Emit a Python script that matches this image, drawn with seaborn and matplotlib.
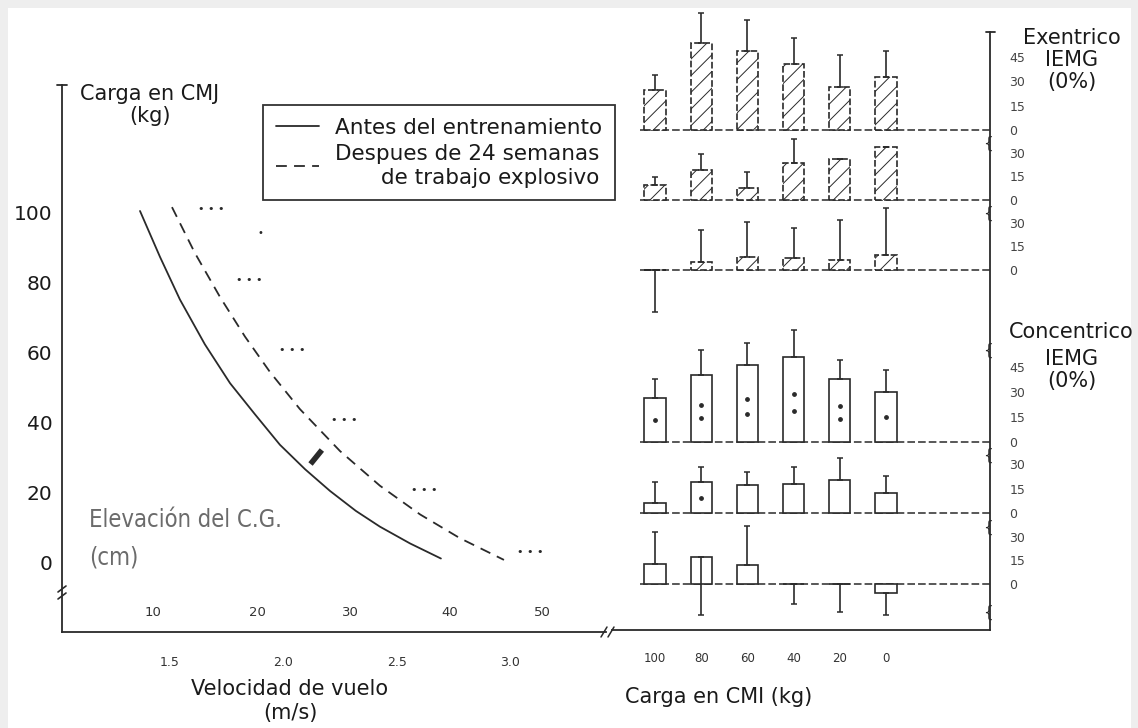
"""
Carga vs velocidad de vuelo (CMJ) e IEMG por carga (CMI)
"""

import numpy as np
import pandas as pd
import matplotlib

matplotlib.use("Agg")
import matplotlib.pyplot as plt
from matplotlib import font_manager
from matplotlib.font_manager import FontProperties
from matplotlib.lines import Line2D
from matplotlib.patches import Rectangle
import seaborn as sns

W, H = 1138, 728
INK = "#2a2a2a"

# left panel: load vs flight velocity
before_v = [1.368, 1.456, 1.544, 1.654, 1.765, 1.875, 1.985, 2.096, 2.206, 2.320, 2.426, 2.559, 2.695]
before_load = [100.3, 87.2, 75.0, 62.2, 51.1, 42.2, 33.5, 26.5, 20.3, 14.6, 10.1, 5.3, 1.0]
after_v = [1.509, 1.610, 1.721, 1.831, 1.941, 2.073, 2.250, 2.426, 2.603, 2.779, 2.973]
after_load = [101.4, 88.3, 75.7, 64.4, 54.3, 43.7, 31.7, 21.8, 13.6, 6.8, 0.6]
sig_v = [1.68, 1.85, 2.04, 2.27, 2.62, 3.09]
sig_load = [101, 80.6, 60.6, 40.6, 20.6, 2.9]
mark_v = [2.12, 2.17]
mark_load = [28, 32]
velocity_ticks = [1.5, 2.0, 2.5, 3.0]
velocity_labels = ["1.5", "2.0", "2.5", "3.0"]
height_labels = ["10", "20", "30", "40", "50"]
height_pos = [1.425, 1.884, 2.294, 2.735, 3.141]
load_ticks = [0, 20, 40, 60, 80, 100]

# right panel: IEMG (%) per CMI load, three rows exentrico + three concentrico
cmi_loads = ["100", "80", "60", "40", "20", "0"]
exc_means = [
    [25, 54, 49, 41, 26.5, 33],
    [9.5, 19, 7.6, 23.5, 26, 34],
    [0, 5, 8.3, 7.6, 6.4, 9.6],
]
exc_tips = [
    [34, 72, 68, 57, 46, 49],
    [14.6, 29, 18, 39, 26, 34],
    [-27, 25.5, 30.6, 27, 32, 39.5],
]
con_means = [
    [26.4, 40, 46, 51, 38, 30],
    [6, 19, 17, 18, 20, 12],
    [13, 17, 12, 0, 0, -6],
]
con_tips = [
    [38, 55, 59, 67, 49, 43],
    [19, 28, 25, 28, 34, 23],
    [33, -20, 37, -13, -18, -20],
]
con_dots = [
    [1, 2, 2, 2, 2, 1],
    [0, 1, 0, 0, 0, 0],
    [0, 0, 0, 0, 0, 0],
]


def fx(px):
    return px / W


def fy(py):
    return 1 - py / H


def fig_line(fig, xs, ys, **kw):
    fig.add_artist(Line2D([fx(x) for x in xs], [fy(y) for y in ys],
                          transform=fig.transFigure, color=INK, **kw))


def narrow_font():
    # a condensed face if one is installed, for the scanned "Elevación" label
    for f in font_manager.fontManager.ttflist:
        if "ondensed" in f.name or "Narrow" in f.name or f.stretch in (
                "condensed", "semi-condensed", "extra-condensed"):
            if f.style == "normal" and f.weight in (400, "normal", "regular"):
                return FontProperties(fname=f.fname)
    return FontProperties(family="DejaVu Sans")


sns.set_style("white")
plt.rcParams["font.family"] = ["DejaVu Sans"]
plt.rcParams["hatch.linewidth"] = 0.7

fig = plt.figure(figsize=(W / 100, H / 100), dpi=100, facecolor="#eeeeee")
fig.patches.append(Rectangle((fx(8), 0), fx(1131) - fx(8), fy(8),
                             transform=fig.transFigure, facecolor="white",
                             edgecolor="none", zorder=-10))

# ---------------- left panel ----------------
ax = fig.add_axes([fx(62), fy(632), fx(606) - fx(62), fy(85) - fy(632)])
ax.set_facecolor("none")
sns.lineplot(x=before_v, y=before_load, ax=ax, color=INK, lw=1.3,
             estimator=None, sort=False, label="Antes del entrenamiento")
sns.lineplot(x=after_v, y=after_load, ax=ax, color=INK, lw=1.3,
             estimator=None, sort=False, linestyle=(0, (6, 4)),
             label="Despues de 24 semanas\nde trabajo explosivo")
ax.plot(mark_v, mark_load, color=INK, lw=4, solid_capstyle="butt")
for v, l in zip(sig_v, sig_load):
    ax.text(v, l, "• • •", fontsize=8, ha="center", va="center", color=INK)
ax.text(1.90, 94, "•", fontsize=7, ha="center", va="center", color=INK)

ax.set_xlim(1.024, 3.423)
ax.set_ylim(-20, 136.3)
ax.set_yticks(load_ticks)
ax.set_yticklabels([str(t) for t in load_ticks], fontsize=14.5, color="#1a1a1a")
ax.set_xticks(velocity_ticks)
ax.set_xticklabels(velocity_labels, fontsize=9, color="#333333")
ax.set_xticks(height_pos, minor=True)
ax.tick_params(axis="y", direction="in", length=5, width=1.1, color=INK, pad=7)
ax.tick_params(axis="x", which="major", length=0, pad=17)
ax.tick_params(axis="x", which="minor", direction="in", length=4, width=1, color=INK)
for lab, v in zip(height_labels, height_pos):
    ax.text(v, -14.3, lab, fontsize=9.5, ha="center", va="center", color="#333333")
for side in ["top", "right"]:
    ax.spines[side].set_visible(False)
for side in ["left", "bottom"]:
    ax.spines[side].set_color(INK)
    ax.spines[side].set_linewidth(1.3)
ax.set(xlabel="", ylabel="")

leg = ax.legend(loc="upper left", bbox_to_anchor=(fx(263), fy(105)),
                bbox_transform=fig.transFigure, borderaxespad=0, fontsize=15.5,
                frameon=True, fancybox=False, edgecolor="black",
                handlelength=2.0, handletextpad=0.75, labelspacing=0.3,
                borderpad=0.6)
leg.get_frame().set_linewidth(1.3)
for t in leg.get_texts():
    t.set_multialignment("right")
    t.set_color("#1a1a1a")

fig.text(fx(150), fy(105), "Carga en CMJ\n(kg)", fontsize=15, ha="center",
         va="center", multialignment="center", linespacing=1.15, color="#1a1a1a")
fig.text(fx(290), fy(701), "Velocidad de vuelo\n(m/s)", fontsize=15, ha="center",
         va="center", multialignment="center", linespacing=1.2, color="#1a1a1a")

# condensed grey label, sized so that the first line spans ~194 px
nfp = narrow_font()
nfp.set_size(20)
elev = fig.text(fx(89), fy(520), "Elevación del C.G.", fontproperties=nfp,
                ha="left", va="center", color="#6b6b6b")
r = fig.canvas.get_renderer()
w = elev.get_window_extent(renderer=r).width
nfp.set_size(min(20 * 194 / w, 24))
elev.set_fontproperties(nfp)
fig.text(fx(89), fy(558), "(cm)", fontproperties=nfp, ha="left", va="center",
         color="#6b6b6b")

# axis decorations: top cap, breaks
fig_line(fig, [57, 67], [85, 85], lw=1.3)
fig_line(fig, [58, 66], [592, 586], lw=1.2)
fig_line(fig, [58, 66], [599, 593], lw=1.2)
fig_line(fig, [601, 607], [637, 627], lw=1.1)
fig_line(fig, [608, 614], [637, 627], lw=1.1)

# ---------------- right panel ----------------
XL = (-0.931, 7.251)
bax = fig.add_axes([fx(612), fy(630), fx(990) - fx(612), fy(32) - fy(630)])
bax.set_facecolor("none")
bax.set_xlim(*XL)
bax.set_xticks(range(len(cmi_loads)))
bax.set_xticklabels(cmi_loads, fontsize=8.5, color="#333333")
bax.set_yticks([])
bax.tick_params(axis="x", length=0, pad=16)
for side in ["top", "left"]:
    bax.spines[side].set_visible(False)
for side in ["right", "bottom"]:
    bax.spines[side].set_color(INK)
    bax.spines[side].set_linewidth(1.3)
fig_line(fig, [986, 995], [32, 32], lw=1.3)
for yb in [143, 213, 350, 455, 527, 612]:
    fig.text(fx(988), fy(yb), "{", fontsize=11, ha="center", va="center", color=INK)

fig.text(fx(625), fy(697), "Carga en CMI (kg)", fontsize=15, ha="left",
         va="center", color="#1a1a1a")
fig.text(fx(1072), fy(60), "Exentrico\nIEMG\n(0%)", fontsize=15, ha="center",
         va="center", multialignment="center", linespacing=1.15, color="#1a1a1a")
fig.text(fx(1009), fy(332), "Concentrico", fontsize=15, ha="left",
         va="center", color="#1a1a1a")
fig.text(fx(1072), fy(370), "IEMG\n(0%)", fontsize=15, ha="center",
         va="center", multialignment="center", linespacing=1.15, color="#1a1a1a")

rows = [
    (exc_means[0], exc_tips[0], None, 130, 1.62, [0, 15, 30, 45], True),
    (exc_means[1], exc_tips[1], None, 200, 1.57, [0, 15, 30], True),
    (exc_means[2], exc_tips[2], None, 270, 1.57, [0, 15, 30], True),
    (con_means[0], con_tips[0], con_dots[0], 442, 1.67, [0, 15, 30, 45], False),
    (con_means[1], con_tips[1], con_dots[1], 513, 1.63, [0, 15, 30], False),
    (con_means[2], con_tips[2], con_dots[2], 584, 1.57, [0, 15, 30], False),
]
for means, tips, dots, base, scale, yt, hatched in rows:
    rax = fig.add_axes([fx(612), fy(base + 50), fx(990) - fx(612), 180 / H])
    rax.set_facecolor("none")
    rax.axhline(0, xmin=0.074, xmax=1, color=INK, lw=1.1, ls=(0, (5, 2)), zorder=1)
    df = pd.DataFrame({"carga": cmi_loads, "iemg": means})
    style = dict(hatch="//", linestyle=(0, (4, 1.5))) if hatched else {}
    sns.barplot(data=df, x="carga", y="iemg", order=cmi_loads, ax=rax,
                width=0.46, color="white", saturation=1, edgecolor=INK,
                linewidth=1.2, errorbar=None, zorder=2, **style)
    m = np.array(means, dtype=float)
    t = np.array(tips, dtype=float)
    lower = np.clip(m - t, 0, None)
    upper = np.clip(t - m, 0, None)
    rax.errorbar(np.arange(len(m)), m, yerr=[lower, upper], fmt="none",
                 ecolor=INK, elinewidth=1.2, capsize=2.5, capthick=1.1, zorder=3)
    if dots is not None:
        for i, (mv, n) in enumerate(zip(means, dots)):
            fr = [0.5] if n == 1 else [0.36, 0.56][:n]
            if n:
                rax.scatter([i] * n, [mv * f for f in fr], s=6, color=INK, zorder=4)
    rax.set_xlim(*XL)
    rax.set_ylim(-50 / scale, 130 / scale)
    rax.set_yticks(yt)
    rax.set_yticklabels([str(v) for v in yt], fontsize=9, color="#444444")
    rax.yaxis.tick_right()
    rax.tick_params(axis="y", length=0, pad=14)
    rax.set_xticks([])
    rax.set(xlabel="", ylabel="")
    for side in rax.spines:
        rax.spines[side].set_visible(False)

fig.savefig("out.png", dpi=100, facecolor=fig.get_facecolor())
